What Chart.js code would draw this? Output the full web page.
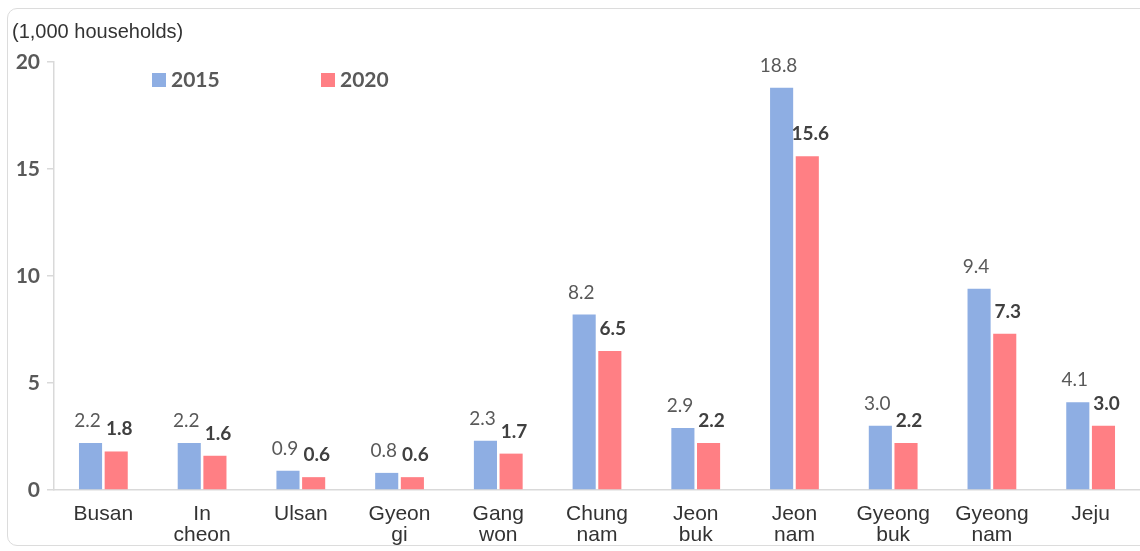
<!DOCTYPE html>
<html>
<head>
<meta charset="utf-8">
<script src="https://cdn.jsdelivr.net/npm/chart.js@4"></script>
<style>
  html, body { margin: 0; padding: 0; background: #fff; }
  #wrap { position: relative; width: 1140px; height: 551px; overflow: hidden; }
  #frame { position: absolute; left: 7px; top: 8px; width: 1160px; height: 538px;
           border: 1.5px solid #dcdcdc; border-radius: 10px; box-sizing: border-box; }
  canvas { position: absolute; left: 0; top: 0; }
</style>
</head>
<body>
<div id="wrap">
  <div id="frame"></div>
  <canvas id="c" width="1140" height="551"></canvas>
</div>
<script>
const categories = [["Busan"], ["In", "cheon"], ["Ulsan"], ["Gyeon", "gi"], ["Gang", "won"],
  ["Chung", "nam"], ["Jeon", "buk"], ["Jeon", "nam"], ["Gyeong", "buk"], ["Gyeong", "nam"], ["Jeju"]];
const values2015 = [2.2, 2.2, 0.9, 0.8, 2.3, 8.2, 2.9, 18.8, 3.0, 9.4, 4.1];
const values2020 = [1.8, 1.6, 0.6, 0.6, 1.7, 6.5, 2.2, 15.6, 2.2, 7.3, 3.0];
const seriesNames = ["2015", "2020"];
const yTicks = [0, 5, 10, 15, 20];
const unitLabel = "(1,000 households)";

const colors = ["#8eaee3", "#ff7f84"];

const overlay = {
  id: 'overlay',
  afterDatasetsDraw(chart) {
    const ctx = chart.ctx;
    ctx.save();
    // unit title
    ctx.font = '20px "Liberation Sans", Arial, sans-serif';
    ctx.fillStyle = '#333';
    ctx.textAlign = 'left';
    ctx.textBaseline = 'middle';
    ctx.fillText(unitLabel, 12, 32);
    // legend
    const legendX = [152, 321];
    seriesNames.forEach((name, i) => {
      ctx.fillStyle = chart.data.datasets[i].backgroundColor;
      ctx.fillRect(legendX[i], 73, 14, 14);
      ctx.fillStyle = '#595959';
      ctx.font = 'bold 21px Lato, "Open Sans", sans-serif';
      ctx.textAlign = 'left';
      ctx.textBaseline = 'middle';
      ctx.fillText(name, legendX[i] + 19, 80);
    });
    // data labels
    chart.data.datasets.forEach((ds, di) => {
      const meta = chart.getDatasetMeta(di);
      meta.data.forEach((bar, i) => {
        const v = ds.data[i];
        ctx.textAlign = 'center';
        ctx.textBaseline = 'alphabetic';
        if (di === 0) {
          ctx.font = '19px Lato, "Open Sans", sans-serif';
          ctx.fillStyle = '#595959';
          ctx.fillText(v.toFixed(1), bar.x - 3, bar.y - 16);
        } else {
          ctx.font = 'bold 19px Lato, "Open Sans", sans-serif';
          ctx.fillStyle = '#404040';
          ctx.fillText(v.toFixed(1), bar.x + 3, bar.y - 16);
        }
      });
    });
    ctx.restore();
  }
};

new Chart(document.getElementById('c'), {
  type: 'bar',
  data: {
    labels: categories,
    datasets: [
      { label: seriesNames[0], data: values2015, backgroundColor: colors[0] },
      { label: seriesNames[1], data: values2020, backgroundColor: colors[1] }
    ]
  },
  options: {
    responsive: false,
    animation: false,
    events: [],
    layout: { padding: { top: 62, left: 0, right: 0, bottom: 0 } },
    datasets: { bar: { categoryPercentage: 0.52, barPercentage: 0.9 } },
    plugins: { legend: { display: false }, title: { display: false }, tooltip: { enabled: false } },
    scales: {
      x: {
        grid: { display: false },
        border: { color: '#d9d9d9', width: 1.5 },
        ticks: {
          color: '#333',
          font: { family: '"Liberation Sans", Arial, sans-serif', size: 21, lineHeight: 1.0 },
          padding: 6,
          maxRotation: 0,
          autoSkip: false
        },
        afterFit(scale) { scale.height = 61; }
      },
      y: {
        min: 0, max: 20,
        afterBuildTicks(scale) { scale.ticks = yTicks.map(v => ({ value: v })); },
        grid: { drawOnChartArea: false, drawTicks: true, tickLength: 7, color: '#d9d9d9', lineWidth: 1.5 },
        border: { color: '#d9d9d9', width: 1.5 },
        ticks: {
          color: '#595959',
          font: { family: 'Lato, "Open Sans", sans-serif', size: 21, weight: 'bold' },
          padding: 7
        },
        afterFit(scale) { scale.width = 54; }
      }
    }
  },
  plugins: [overlay]
});
</script>
</body>
</html>
